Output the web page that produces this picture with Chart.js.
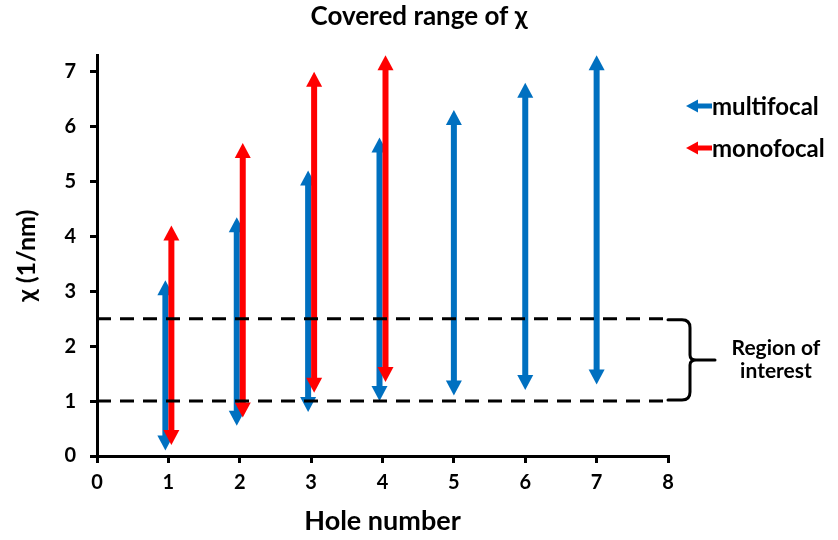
<!DOCTYPE html>
<html>
<head>
<meta charset="utf-8">
<title>Covered range of χ</title>
<script src="https://cdn.jsdelivr.net/npm/chart.js@4.4.1/dist/chart.umd.min.js"></script>
<style>
  body { margin: 0; background: #fff; }
  #wrap { width: 838px; height: 540px; }
</style>
</head>
<body>
<div id="wrap"><canvas id="chart" width="838" height="540"></canvas></div>
<script>
// data
const seriesNames = ['multifocal', 'monofocal'];
const multiHoles = [1, 2, 3, 4, 5, 6, 7];
const multiLow = [0.1, 0.55, 0.8, 1.0, 1.1, 1.2, 1.3];
const multiHigh = [3.2, 4.35, 5.2, 5.8, 6.3, 6.8, 7.3];
const monoHoles = [1, 2, 3, 4];
const monoLow = [0.2, 0.7, 1.15, 1.35];
const monoHigh = [4.2, 5.7, 7.0, 7.3];
const regionBounds = [1.0, 2.5];
const regionLabel = ['Region of', 'interest'];
const xTicks = [0, 1, 2, 3, 4, 5, 6, 7, 8];
const yTicks = [0, 1, 2, 3, 4, 5, 6, 7];

const BLUE = '#0070C0';
const RED = '#FF0000';

Chart.defaults.font.family = "Lato, 'DejaVu Sans', sans-serif";
Chart.defaults.font.weight = 'bold';
Chart.defaults.color = '#000';

function drawArrow(ctx, px, yTop, yBot, color) {
  const hl = 15, hw = 8, sw = 6;
  ctx.fillStyle = color;
  ctx.fillRect(px - sw / 2, yTop + hl - 1, sw, yBot - yTop - 2 * hl + 2);
  ctx.beginPath();
  ctx.moveTo(px, yTop);
  ctx.lineTo(px + hw, yTop + hl);
  ctx.lineTo(px - hw, yTop + hl);
  ctx.closePath();
  ctx.fill();
  ctx.beginPath();
  ctx.moveTo(px, yBot);
  ctx.lineTo(px + hw, yBot - hl);
  ctx.lineTo(px - hw, yBot - hl);
  ctx.closePath();
  ctx.fill();
}

function drawLeftArrow(ctx, xTip, yc, color) {
  ctx.fillStyle = color;
  ctx.beginPath();
  ctx.moveTo(xTip, yc);
  ctx.lineTo(xTip + 12, yc - 6.5);
  ctx.lineTo(xTip + 12, yc + 6.5);
  ctx.closePath();
  ctx.fill();
  ctx.fillRect(xTip + 11, yc - 2.5, 15, 5);
}

const arrowPlugin = {
  id: 'arrows',
  beforeDatasetsDraw(chart) {
    const {ctx, scales: {x, y}} = chart;
    ctx.save();
    multiHoles.forEach((h, i) => {
      const shift = monoHoles.includes(h) ? -3 : 0;
      drawArrow(ctx, x.getPixelForValue(h) + shift, y.getPixelForValue(multiHigh[i]), y.getPixelForValue(multiLow[i]), BLUE);
    });
    monoHoles.forEach((h, i) => {
      drawArrow(ctx, x.getPixelForValue(h) + 3, y.getPixelForValue(monoHigh[i]), y.getPixelForValue(monoLow[i]), RED);
    });
    ctx.restore();
  },
  afterDraw(chart) {
    const {ctx, chartArea, scales: {y}} = chart;
    ctx.save();

    // brace for the region of interest
    const yT = y.getPixelForValue(regionBounds[1]) + 1;
    const yB = y.getPixelForValue(regionBounds[0]) - 1;
    const ym = (yT + yB) / 2;
    const x0 = chartArea.right;
    const xv = x0 + 22;
    ctx.strokeStyle = '#000';
    ctx.lineWidth = 3;
    ctx.lineCap = 'round';
    ctx.beginPath();
    ctx.moveTo(x0, yT);
    ctx.lineTo(xv - 8, yT);
    ctx.quadraticCurveTo(xv, yT, xv, yT + 8);
    ctx.lineTo(xv, ym - 5);
    ctx.quadraticCurveTo(xv, ym, xv + 6, ym);
    ctx.lineTo(x0 + 47, ym);
    ctx.moveTo(xv + 6, ym);
    ctx.quadraticCurveTo(xv, ym, xv, ym + 5);
    ctx.lineTo(xv, yB - 8);
    ctx.quadraticCurveTo(xv, yB, xv - 8, yB);
    ctx.lineTo(x0, yB);
    ctx.stroke();

    ctx.fillStyle = '#000';
    ctx.font = "bold 21px Lato, 'DejaVu Sans', sans-serif";
    ctx.textAlign = 'center';
    ctx.textBaseline = 'alphabetic';
    ctx.fillText(regionLabel[0], 776, 355);
    ctx.fillText(regionLabel[1], 776, 378);

    // legend
    const colors = [BLUE, RED];
    const rows = [106, 148];
    ctx.font = "bold 24px Lato, 'DejaVu Sans', sans-serif";
    ctx.textAlign = 'left';
    ctx.textBaseline = 'middle';
    seriesNames.forEach((name, i) => {
      drawLeftArrow(ctx, 686, rows[i], colors[i]);
      ctx.fillStyle = '#000';
      ctx.fillText(name, 712, rows[i] + 1);
    });
    ctx.restore();
  }
};

const dashed = (v) => ({
  type: 'line',
  data: [{x: xTicks[0], y: v}, {x: xTicks[xTicks.length - 1], y: v}],
  borderColor: '#000',
  borderWidth: 3,
  borderDash: [14, 9],
  pointRadius: 0,
  fill: false
});

new Chart(document.getElementById('chart'), {
  type: 'scatter',
  data: {
    datasets: [dashed(regionBounds[1]), dashed(regionBounds[0])]
  },
  options: {
    responsive: false,
    animation: false,
    events: [],
    layout: { padding: 0 },
    plugins: {
      legend: { display: false },
      tooltip: { enabled: false },
      title: {
        display: true,
        text: 'Covered range of χ',
        font: { size: 26, weight: 'bold' },
        color: '#000',
        padding: { top: 1, bottom: 23 }
      }
    },
    scales: {
      x: {
        type: 'linear',
        min: 0,
        max: 8,
        afterBuildTicks: (s) => { s.ticks = xTicks.map(v => ({value: v})); },
        afterFit: (s) => { s.height = 84; },
        ticks: { font: { size: 20, weight: 'bold' }, color: '#000', padding: 8 },
        grid: { drawOnChartArea: false, color: '#000', lineWidth: 3, tickLength: 7 },
        border: { color: '#000', width: 3 },
        title: { display: true, text: 'Hole number', font: { size: 27, weight: 'bold' }, color: '#000', padding: { top: 0, bottom: 3 } }
      },
      y: {
        type: 'linear',
        min: 0,
        max: 7.3,
        afterBuildTicks: (s) => { s.ticks = yTicks.map(v => ({value: v})); },
        afterFit: (s) => { s.width = 97; },
        ticks: { font: { size: 20, weight: 'bold' }, color: '#000', padding: 14 },
        grid: { drawOnChartArea: false, color: '#000', lineWidth: 3, tickLength: 7 },
        border: { color: '#000', width: 3 },
        title: { display: true, text: 'χ (1/nm)', font: { size: 25, weight: 'bold' }, color: '#000', padding: { top: 12, bottom: 0 } }
      },
      yR: {
        type: 'linear',
        position: 'right',
        display: true,
        afterFit: (s) => { s.width = 170; },
        ticks: { display: false },
        grid: { display: false },
        border: { display: false }
      }
    }
  },
  plugins: [arrowPlugin]
});
</script>
</body>
</html>
